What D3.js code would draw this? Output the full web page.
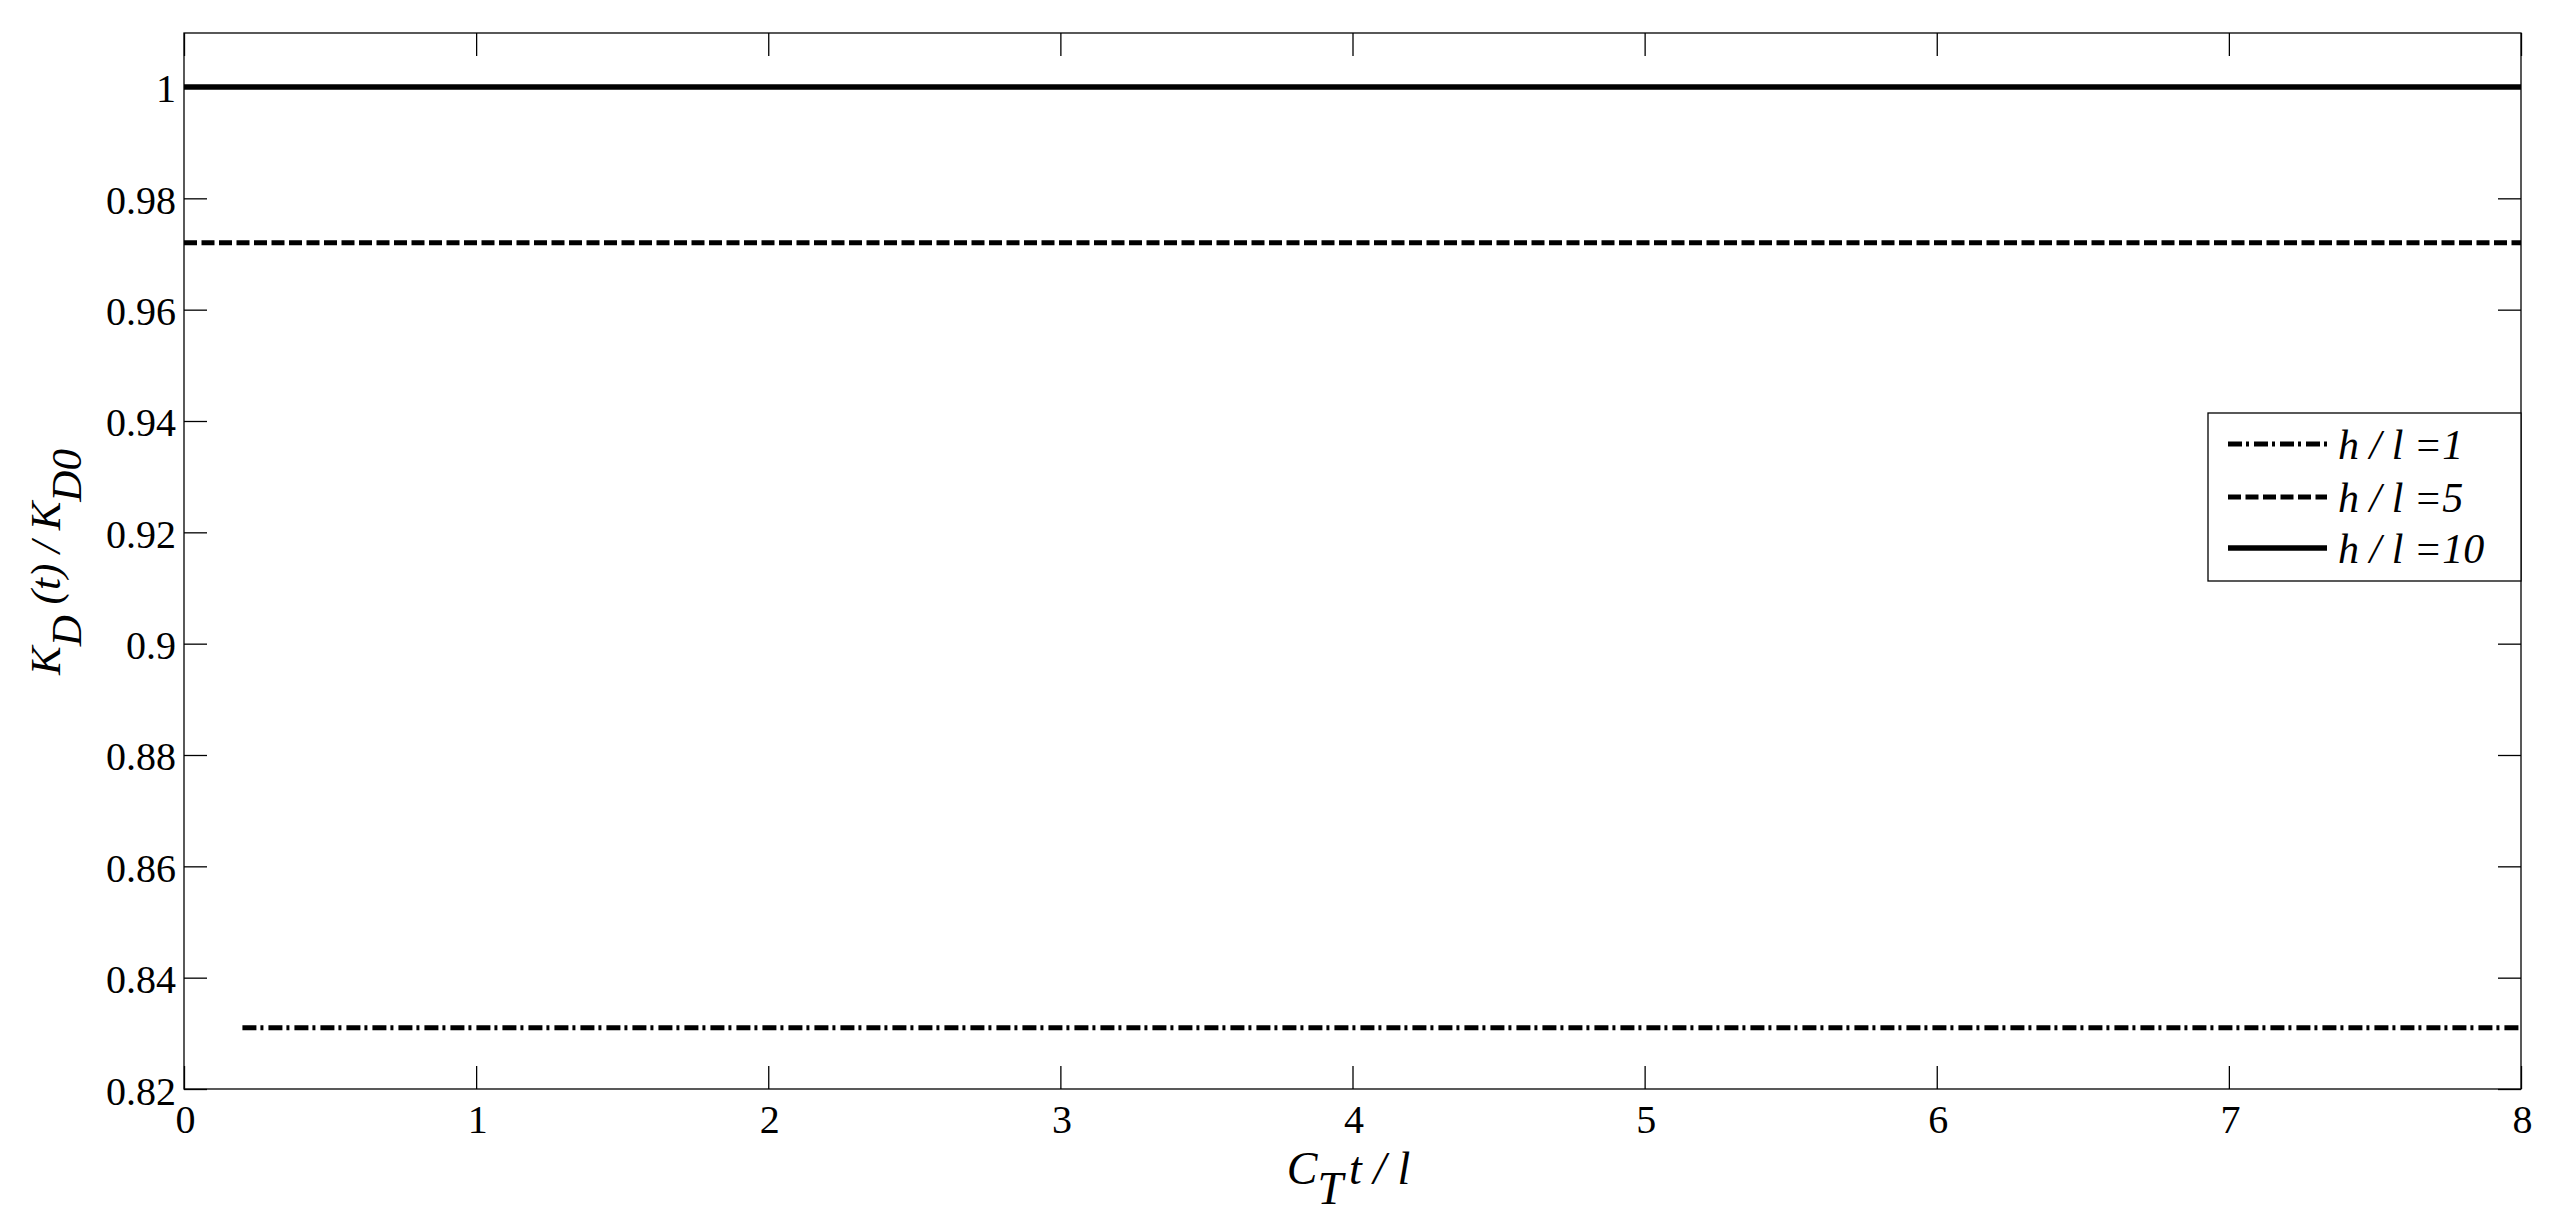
<!DOCTYPE html>
<html>
<head>
<meta charset="utf-8">
<script src="https://cdn.jsdelivr.net/npm/d3@7"></script>
<style>
  html, body { margin: 0; padding: 0; background: #fff; }
  svg { display: block; }
</style>
</head>
<body>
<svg id="chart" width="2558" height="1230"></svg>
<script>
// ---- data ----
const xTicks = [0, 1, 2, 3, 4, 5, 6, 7, 8];
const yTicks = [0.82, 0.84, 0.86, 0.88, 0.9, 0.92, 0.94, 0.96, 0.98, 1];
const yTickLabels = ["0.82", "0.84", "0.86", "0.88", "0.9", "0.92", "0.94", "0.96", "0.98", "1"];
const seriesNames = ["h / l =1", "h / l =5", "h / l =10"];
const t_h1 = [0.2, 1, 2, 3, 4, 5, 6, 7, 8];
const k_h1 = [0.831, 0.831, 0.831, 0.831, 0.831, 0.831, 0.831, 0.831, 0.831];
const t_h5 = [0, 1, 2, 3, 4, 5, 6, 7, 8];
const k_h5 = [0.972, 0.972, 0.972, 0.972, 0.972, 0.972, 0.972, 0.972, 0.972];
const t_h10 = [0, 1, 2, 3, 4, 5, 6, 7, 8];
const k_h10 = [1, 1, 1, 1, 1, 1, 1, 1, 1];

// ---- layout ----
const FONT = '"Liberation Serif", "Times New Roman", Tinos, serif';
const L = 184, R = 2521, T = 33, B = 1089;
const svg = d3.select("#chart");
const x = d3.scaleLinear().domain([0, 8]).range([L, R]);
const y = d3.scaleLinear().domain([0.82, 1.0097]).range([B, T]);

const styles = [
  { dash: "14,4,3,5", width: 5 },
  { dash: "13,4.5", width: 5 },
  { dash: null, width: 5.5 }
];
const series = [
  { t: t_h1, k: k_h1 },
  { t: t_h5, k: k_h5 },
  { t: t_h10, k: k_h10 }
];

function styleText(sel, size, italic) {
  sel.style("font-family", FONT).style("font-size", size + "px")
     .style("font-style", italic ? "italic" : "normal").style("fill", "#000");
}

// axes with inward ticks on all sides
const tickLen = 23;
svg.append("g").attr("transform", `translate(0,${B})`)
  .call(d3.axisBottom(x).tickValues(xTicks).tickSizeInner(-tickLen).tickSizeOuter(0).tickFormat(d3.format("d")))
  .call(g => g.select(".domain").remove())
  .call(g => g.selectAll("line").attr("stroke", "#000").attr("stroke-width", 1.3))
  .call(g => g.selectAll("text").attr("x", 1).attr("y", 44).attr("dy", null).call(s => styleText(s, 40, false)));
svg.append("g").attr("transform", `translate(0,${T})`)
  .call(d3.axisTop(x).tickValues(xTicks).tickSizeInner(-tickLen).tickSizeOuter(0).tickFormat(""))
  .call(g => g.select(".domain").remove())
  .call(g => g.selectAll("line").attr("stroke", "#000").attr("stroke-width", 1.3));
svg.append("g").attr("transform", `translate(${L},0)`)
  .call(d3.axisLeft(y).tickValues(yTicks).tickSizeInner(-tickLen).tickSizeOuter(0)
      .tickFormat((d, i) => yTickLabels[i]))
  .call(g => g.select(".domain").remove())
  .call(g => g.selectAll("line").attr("stroke", "#000").attr("stroke-width", 1.3))
  .call(g => g.selectAll("text").attr("x", -8).attr("dy", 15).call(s => styleText(s, 40, false)));
svg.append("g").attr("transform", `translate(${R},0)`)
  .call(d3.axisRight(y).tickValues(yTicks).tickSizeInner(-tickLen).tickSizeOuter(0).tickFormat(""))
  .call(g => g.select(".domain").remove())
  .call(g => g.selectAll("line").attr("stroke", "#000").attr("stroke-width", 1.3));

// box
svg.append("rect").attr("x", L).attr("y", T).attr("width", R - L).attr("height", B - T)
  .attr("fill", "none").attr("stroke", "#000").attr("stroke-width", 1.3);

// lines
const line = d3.line().x(d => x(d[0])).y(d => y(d[1]));
series.forEach((s, i) => {
  const pts = s.t.map((tv, j) => [tv, s.k[j]]);
  svg.append("path").attr("d", line(pts)).attr("fill", "none")
    .attr("stroke", "#000").attr("stroke-width", styles[i].width)
    .attr("stroke-dasharray", styles[i].dash);
});

// legend
const lg = svg.append("g");
lg.append("rect").attr("x", 2208).attr("y", 413).attr("width", R - 2208).attr("height", 168)
  .attr("fill", "#fff").attr("stroke", "#000").attr("stroke-width", 1.3);
const rowY = [444, 497, 548];
seriesNames.forEach((n, i) => {
  lg.append("line").attr("x1", 2228).attr("x2", 2327).attr("y1", rowY[i]).attr("y2", rowY[i])
    .attr("stroke", "#000").attr("stroke-width", styles[i].width)
    .attr("stroke-dasharray", styles[i].dash);
  lg.append("text").attr("x", 2338).attr("y", rowY[i] + 15).call(s => styleText(s, 42, true)).text(n);
});

// x label
const xl = svg.append("text").attr("x", (L + R) / 2 - 4).attr("y", 1184).attr("text-anchor", "middle")
  .call(s => styleText(s, 46, true));
xl.append("tspan").text("C");
xl.append("tspan").attr("dy", 20).text("T");
xl.append("tspan").attr("dy", -20).attr("dx", 6).text("t / l");

// y label
const yl = svg.append("text").attr("transform", `translate(60,${(T + B) / 2 + 1}) rotate(-90)`)
  .attr("text-anchor", "middle").call(s => styleText(s, 43, true));
yl.append("tspan").text("K");
yl.append("tspan").attr("dy", 21).text("D");
yl.append("tspan").attr("dy", -21).text(" (t) / K");
yl.append("tspan").attr("dy", 21).text("D0");
</script>
</body>
</html>
